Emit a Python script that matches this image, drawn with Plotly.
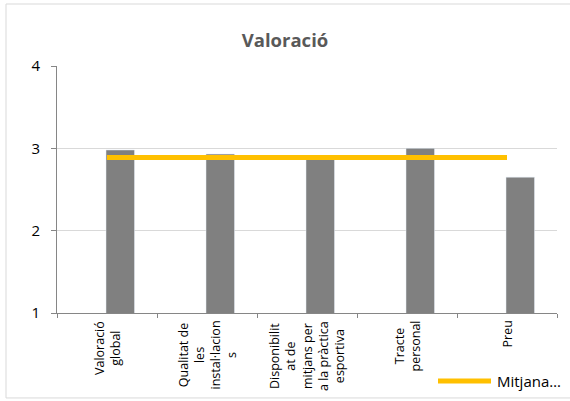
import plotly.graph_objects as go

# categories and values
categories = [
    "Valoració<br>global",
    "Qualitat de<br>les<br>instal·lacion<br>s",
    "Disponibilit<br>at de<br>mitjans per<br>a la pràctica<br>esportiva",
    "Tracte<br>personal",
    "Preu",
]
valoracio = [2.98, 2.93, 2.88, 3.00, 2.65]
mitjana = [2.89, 2.89, 2.89, 2.89, 2.89]
mitjana_name = "Mitjana…"
line_color = "#ffc000"

fig = go.Figure()

# grey bars
fig.add_trace(go.Bar(
    x=categories, y=valoracio,
    marker=dict(color="#808080"),
    width=0.285, offset=-0.01,
    showlegend=False,
    name="Valoració",
))

# average line
fig.add_trace(go.Scatter(
    x=categories, y=mitjana,
    mode="lines",
    line=dict(color=line_color, width=5),
    name=mitjana_name, showlegend=False,
))

# category labels, centred multi-line text rotated like Excel does it
for c in categories:
    fig.add_annotation(
        x=c, y=0, xref="x", yref="paper",
        text=c, textangle=-90, align="center",
        xanchor="center", yanchor="top", yshift=-6,
        showarrow=False, font=dict(size=12.5, color="#000000"),
    )

# legend drawn by hand: the plotly legend would push the margins since the
# text runs off the right edge as in the original
fig.add_annotation(
    x=0.876, y=-0.275, xref="paper", yref="paper",
    text=mitjana_name, xanchor="left", yanchor="middle",
    showarrow=False, font=dict(size=15, color="#000000"),
)

fig.update_layout(
    width=570, height=401,
    margin=dict(l=57, r=13, t=66, b=88),
    paper_bgcolor="white", plot_bgcolor="white",
    font=dict(family="Open Sans", color="#000000"),
    title=dict(text="<b>Valoració</b>", x=0.5, xanchor="center", y=0.9, yanchor="middle",
               font=dict(size=18.5, color="#595959")),
    showlegend=False,
    shapes=[
        dict(type="rect", xref="paper", yref="paper",
             x0=-0.102, x1=1.05, y0=-0.344, y1=1.251,
             line=dict(color="#d9d9d9", width=1)),
        dict(type="line", xref="paper", yref="paper",
             x0=0.762, x1=0.868, y0=-0.275, y1=-0.275,
             line=dict(color=line_color, width=5)),
    ],
)

fig.update_yaxes(
    range=[1, 4], dtick=1, automargin=False,
    showgrid=True, gridcolor="#d9d9d9", gridwidth=1,
    showline=True, linecolor="#868686", linewidth=1,
    ticks="outside", ticklen=5, tickcolor="#868686", ticklabelstandoff=8,
    tickfont=dict(size=15, color="#000000"),
    zeroline=False,
)
fig.update_xaxes(
    type="category", automargin=False,
    showline=True, linecolor="#868686", linewidth=1,
    ticks="outside", ticklen=4, tickcolor="#868686", tickson="boundaries",
    showticklabels=False,
    range=[-0.5, 4.5],
)

# drop the page's default body margin so the chart sits at the window origin
fig.write_html("out.html", config={"displayModeBar": False},
               post_script="document.body.style.margin='0';")
